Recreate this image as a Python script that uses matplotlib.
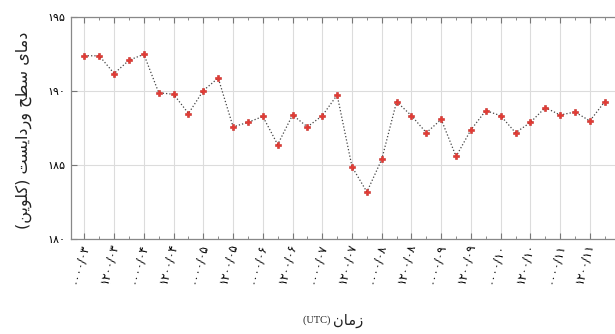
import matplotlib

matplotlib.use("Agg")
import matplotlib.pyplot as plt
from matplotlib.ticker import FixedLocator, FixedFormatter

# surface temperature, every 6 h from 0000 UTC day 03 to 1800 UTC day 11
TEMPS = [
    192.4, 192.4, 191.2, 192.1, 192.5, 189.9, 189.8, 188.5, 190.05, 190.9,
    187.6, 187.9, 188.3, 186.4, 188.4, 187.6, 188.35, 189.75, 184.9, 183.2,
    185.4, 189.3, 188.35, 187.2, 188.1, 185.6, 187.4, 188.7, 188.35, 187.2,
    187.9, 188.9, 188.4, 188.6, 188.0, 189.3,
]
DAYS = ["03", "04", "05", "06", "07", "08", "09", "10", "11"]
HOURS = ["0000", "1200"]
Y_TICKS = [180, 185, 190, 195]

FA_DIGITS = str.maketrans("0123456789", "۰۱۲۳۴۵۶۷۸۹")

# presentation forms: (isolated, final, initial, medial); None = right-joining only
FORMS = {
    "ا": ("\uFE8D", "\uFE8E", None, None),
    "د": ("\uFEA9", "\uFEAA", None, None),
    "ر": ("\uFEAD", "\uFEAE", None, None),
    "ز": ("\uFEAF", "\uFEB0", None, None),
    "و": ("\uFEED", "\uFEEE", None, None),
    "م": ("\uFEE1", "\uFEE2", "\uFEE3", "\uFEE4"),
    "ی": ("\uFBFC", "\uFBFD", "\uFBFE", "\uFBFF"),
    "س": ("\uFEB1", "\uFEB2", "\uFEB3", "\uFEB4"),
    "ط": ("\uFEC1", "\uFEC2", "\uFEC3", "\uFEC4"),
    "ح": ("\uFEA1", "\uFEA2", "\uFEA3", "\uFEA4"),
    "ت": ("\uFE95", "\uFE96", "\uFE97", "\uFE98"),
    "ک": ("\uFB8E", "\uFB8F", "\uFB90", "\uFB91"),
    "ل": ("\uFEDD", "\uFEDE", "\uFEDF", "\uFEE0"),
    "ن": ("\uFEE5", "\uFEE6", "\uFEE7", "\uFEE8"),
}
MIRROR = {"(": ")", ")": "("}


def shape_rtl(text):
    out = []
    for i, ch in enumerate(text):
        if ch not in FORMS:
            out.append(MIRROR.get(ch, ch))
            continue
        prev = text[i - 1] if i > 0 else ""
        nxt = text[i + 1] if i + 1 < len(text) else ""
        iso, fin, ini, med = FORMS[ch]
        join_prev = prev in FORMS and FORMS[prev][2] is not None
        join_next = ini is not None and nxt in FORMS
        if join_prev and join_next:
            out.append(med)
        elif join_prev:
            out.append(fin)
        elif join_next:
            out.append(ini)
        else:
            out.append(iso)
    return "".join(reversed(out))


x = list(range(len(TEMPS)))
major = [i for i in x if i % 2 == 0]
minor = [i for i in x if i % 2 == 1]
labels = [f"{h}/{d}".translate(FA_DIGITS) for d in DAYS for h in HOURS]

fig = plt.figure(figsize=(6.15, 3.34), dpi=100)
ax = fig.add_axes([0.1155, 0.2835, 0.892, 0.6647])

ax.plot(x, TEMPS, linestyle=":", color="#444444", linewidth=0.9, zorder=3)
ax.plot(x, TEMPS, linestyle="none", marker="P", markersize=5,
        color="#e53a33", markeredgecolor="#c42a25", markeredgewidth=0.4, zorder=4)

ax.set_xlim(-0.9, 36.0)
ax.set_ylim(180, 195)
ax.xaxis.set_major_locator(FixedLocator(major))
ax.xaxis.set_major_formatter(FixedFormatter(labels))
ax.xaxis.set_minor_locator(FixedLocator(minor))
ax.set_yticks(Y_TICKS)
ax.set_yticklabels([str(v).translate(FA_DIGITS) for v in Y_TICKS])

ax.grid(True, which="major", color="#dcdcdc", linewidth=0.8)
ax.tick_params(axis="both", which="both", direction="in", color="#777777",
               top=True, labelsize=8.5, pad=3)
ax.tick_params(which="major", length=4)
ax.tick_params(which="minor", length=2.5)
ax.tick_params(axis="y", which="both", right=False, labelsize=8, pad=4)
for lbl in ax.get_xticklabels():
    lbl.set_rotation(75)
    lbl.set_ha("right")
    lbl.set_va("center")
    lbl.set_rotation_mode("anchor")
for side in ["left", "bottom", "top", "right"]:
    ax.spines[side].set_color("#888888")
    ax.spines[side].set_linewidth(0.9)

fig.text(0.039, 0.61, shape_rtl("دمای سطح وردایست (کلوین)"), rotation=90,
         ha="center", va="center", fontsize=11.5, color="#222222")
fig.text(0.542, 0.04, "(UTC) ", ha="right", va="center", fontsize=7.5,
         family="Liberation Serif", color="#222222")
fig.text(0.542, 0.04, shape_rtl("زمان"), ha="left", va="center",
         fontsize=10.5, color="#222222")

fig.savefig("out.png", dpi=100)
